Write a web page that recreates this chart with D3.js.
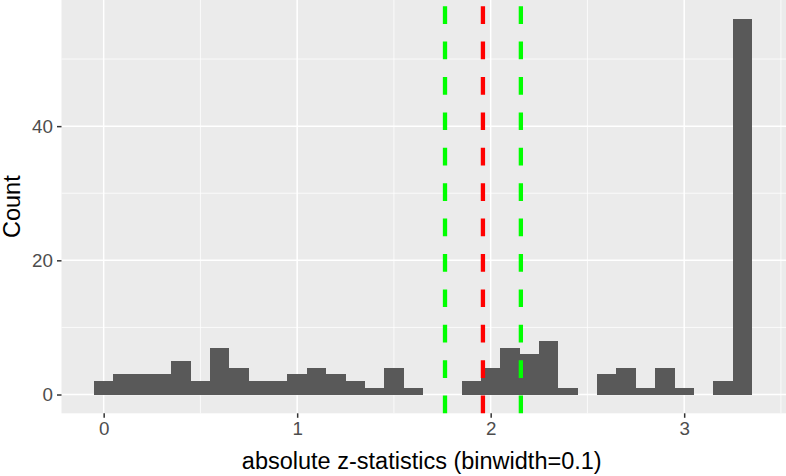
<!DOCTYPE html>
<html><head><meta charset="utf-8">
<script src="https://cdn.jsdelivr.net/npm/d3@7"></script>
<style>body{margin:0;background:#fff;} svg{display:block;}</style>
</head><body>
<svg id="chart" width="786" height="476"></svg>
<script>
const binCenters = [0.0,0.1,0.2,0.3,0.4,0.5,0.6,0.7,0.8,0.9,1.0,1.1,1.2,1.3,1.4,1.5,1.6,1.7,1.8,1.9,2.0,2.1,2.2,2.3,2.4,2.5,2.6,2.7,2.8,2.9,3.0,3.1,3.2,3.3];
const counts =     [2,3,3,3,5,2,7,4,2,2,3,4,3,2,1,4,1,0,0,2,4,7,6,8,1,0,3,4,1,4,1,0,2,56];
const binWidth = 0.1;
const xTicks = [0,1,2,3];
const yTicks = [0,20,40];
const xMinor = [0.5,1.5,2.5,3.5];
const yMinor = [10,30,50];
const vlines = [
  {x:1.764, color:"#00FF00"},
  {x:1.96,  color:"#FF0000"},
  {x:2.156, color:"#00FF00"}
];
const xTitle = "absolute z-statistics (binwidth=0.1)";
const yTitle = "Count";

const svg = d3.select("#chart");
const panel = {left:61.5, right:786, top:0, bottom:413.3};
const x = d3.scaleLinear().domain([-0.22,3.52]).range([61.1,784.8]);
const y = d3.scaleLinear().domain([-2.8,58.8]).range([413.3,0]);

svg.append("rect").attr("x",panel.left).attr("y",panel.top)
  .attr("width",panel.right-panel.left).attr("height",panel.bottom-panel.top).attr("fill","#EBEBEB");

const g = svg.append("g");
g.selectAll(".ymin").data(yMinor).join("line")
  .attr("x1",panel.left).attr("x2",panel.right).attr("y1",d=>y(d)).attr("y2",d=>y(d))
  .attr("stroke","#fff").attr("stroke-width",0.75);
g.selectAll(".xmin").data(xMinor).join("line")
  .attr("y1",panel.top).attr("y2",panel.bottom).attr("x1",d=>x(d)).attr("x2",d=>x(d))
  .attr("stroke","#fff").attr("stroke-width",0.75);
g.selectAll(".ymaj").data(yTicks).join("line")
  .attr("x1",panel.left).attr("x2",panel.right).attr("y1",d=>y(d)).attr("y2",d=>y(d))
  .attr("stroke","#fff").attr("stroke-width",1.5);
g.selectAll(".xmaj").data(xTicks).join("line")
  .attr("y1",panel.top).attr("y2",panel.bottom).attr("x1",d=>x(d)).attr("x2",d=>x(d))
  .attr("stroke","#fff").attr("stroke-width",1.5);

const bins = binCenters.map((c,i)=>({c, n:counts[i]})).filter(d=>d.n>0);
svg.selectAll(".bar").data(bins).join("rect")
  .attr("x",d=>x(d.c-binWidth/2)).attr("width",d=>x(d.c+binWidth/2)-x(d.c-binWidth/2))
  .attr("y",d=>y(d.n)).attr("height",d=>y(0)-y(d.n))
  .attr("fill","#595959").attr("shape-rendering","crispEdges");

svg.selectAll(".vl").data(vlines).join("line")
  .attr("x1",d=>x(d.x)).attr("x2",d=>x(d.x)).attr("y1",panel.bottom).attr("y2",panel.top)
  .attr("stroke",d=>d.color).attr("stroke-width",4.3).attr("stroke-dasharray","17.7 17.7");

// axes
const xAxis = d3.axisBottom(x).tickValues(xTicks).tickSize(4.5).tickPadding(4).tickFormat(d3.format("d"));
const xa = svg.append("g").attr("transform",`translate(0,${panel.bottom})`).call(xAxis);
xa.select(".domain").remove();
xa.selectAll("line").attr("stroke","#333").attr("stroke-width",1.5);
xa.selectAll("text").attr("fill","#4D4D4D").attr("font-family","Liberation Sans, Arial, sans-serif").attr("font-size",18.8);

const yAxis = d3.axisLeft(y).tickValues(yTicks).tickSize(4.5).tickPadding(4).tickFormat(d3.format("d"));
const ya = svg.append("g").attr("transform",`translate(${panel.left},0)`).call(yAxis);
ya.select(".domain").remove();
ya.selectAll("line").attr("stroke","#333").attr("stroke-width",1.5);
ya.selectAll("text").attr("fill","#4D4D4D").attr("font-family","Liberation Sans, Arial, sans-serif").attr("font-size",18.8);

svg.append("text").attr("x",(panel.left+panel.right)/2-2).attr("y",469)
  .attr("text-anchor","middle").attr("font-family","Liberation Sans, Arial, sans-serif")
  .attr("font-size",23.5).attr("fill","#000").text(xTitle);
svg.append("text").attr("transform",`translate(20,${(panel.top+panel.bottom)/2}) rotate(-90)`)
  .attr("text-anchor","middle").attr("font-family","Liberation Sans, Arial, sans-serif")
  .attr("font-size",23.5).attr("fill","#000").text(yTitle);
</script>
</body></html>
